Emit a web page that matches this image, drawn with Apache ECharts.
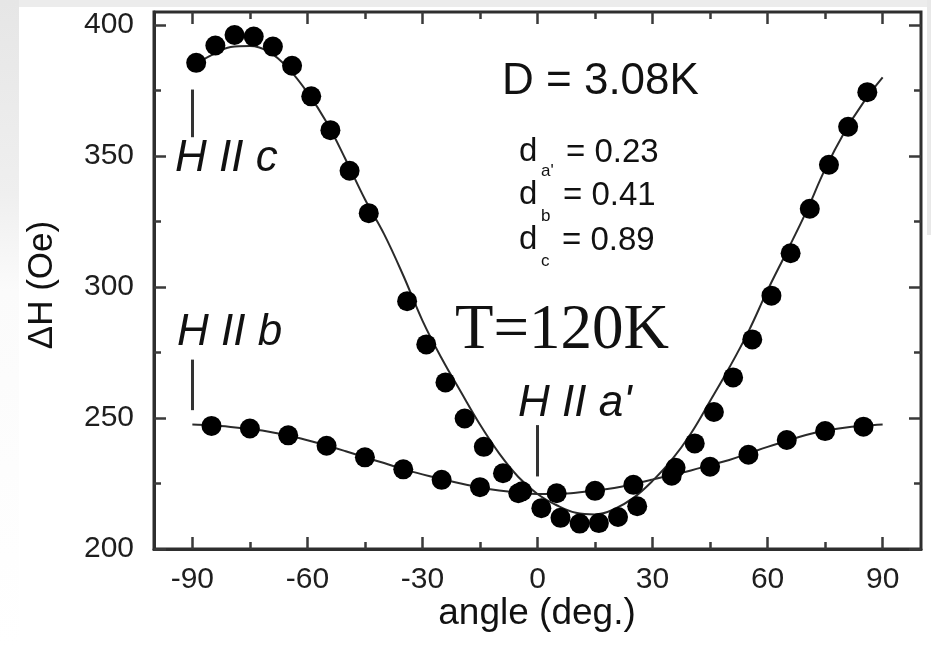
<!DOCTYPE html>
<html>
<head>
<meta charset="utf-8">
<script src="https://cdn.jsdelivr.net/npm/echarts@6/dist/echarts.min.js"></script>
<style>
html,body{margin:0;padding:0;background:#ffffff;}
#chart{width:931px;height:647px;}
</style>
</head>
<body>
<div id="chart"></div>
<script>
// ---- data ----
const cAngles = [-89,-84,-79,-74,-69,-64,-59,-54,-49,-44,-34,-29,-24,-19,-14,-9,-4,1,6,11,16,21,26,36,41,46,51,56,61,66,71,76,81,86];
const cValues = [385.6,392.2,396.2,395.6,391.8,384.5,372.8,359.9,344.4,328.2,294.6,278.1,263.6,249.8,239.0,228.9,222.0,215.6,211.9,209.7,209.9,212.2,216.3,231.0,240.3,252.3,265.5,280.0,296.7,312.9,329.9,346.7,361.2,374.4];

const bAngles = [-85,-75,-65,-55,-45,-35,-25,-15,-5,5,15,25,35,45,55,65,75,85];
const bValues = [247.0,246.0,243.4,239.4,235.0,230.4,226.4,223.6,221.3,221.3,222.2,224.5,228.0,231.4,236.0,241.6,245.0,246.7];

const fitAngles = [-90,-85,-80,-75,-70,-65,-60,-55,-50,-45,-40,-35,-30,-25,-20,-15,-10,-5,0,5,10,15,20,25,30,35,40,45,50,55,60,65,70,75,80,85,90];
const cFit = [384.3,388.5,391.6,392.0,389.8,383.5,374.3,362.9,348.6,333.5,320.2,304.4,287.2,272.8,260.0,247.5,236.5,227.5,221.0,216.7,213.8,213.2,215.2,219.5,226.0,234.0,244.1,256.5,269.2,283.0,298.8,313.5,328.5,345.0,359.0,370.5,380.0];
const bFit = [247.5,247.2,246.6,245.8,244.8,243.3,241.5,239.5,237.3,235.0,232.8,230.5,228.5,226.7,225.0,223.5,222.3,221.5,221.0,221.0,221.5,222.3,223.3,224.8,226.5,228.3,230.0,232.0,234.0,236.5,239.0,241.3,243.5,245.2,246.3,247.0,247.5];

// direction markers (angle, top value, bottom value)
const markerAngles = [-90, -90, 0];
const markerTop = [375.4, 272.3, 247.3];
const markerBottom = [357.2, 253.0, 227.7];

// axis ticks
const xMajor = [-90,-60,-30,0,30,60,90];
const xMinor = [-75,-45,-15,15,45,75];
const yMajor = [200,250,300,350,400];
const yMinor = [225,275,325,375];
const xRange = [-100, 100];
const yRange = [200, 405];

// ---- chart ----
const fontSans = '"Liberation Sans", Arial, Helvetica, sans-serif';
const fontSerif = '"Liberation Serif", "Times New Roman", serif';
const frameColor = '#2e2e2e';
const tickColor = '#3a3a3a';

function zip(a, b) { return a.map((v, i) => [v, b[i]]); }

function xAx(pos, ticks, len, labels) {
  return {
    type: 'value', min: xRange[0], max: xRange[1], position: pos,
    axisLine: { show: labels, onZero: false, lineStyle: { color: frameColor, width: 3 } },
    axisTick: { show: true, inside: true, length: len, customValues: ticks, lineStyle: { color: tickColor, width: 2.5 } },
    axisLabel: labels ? { show: true, customValues: ticks, margin: 16, fontSize: 30, color: '#1e1e1e', fontFamily: fontSans } : { show: false },
    splitLine: { show: false }
  };
}
function yAx(pos, ticks, len, labels) {
  return {
    type: 'value', min: yRange[0], max: yRange[1], position: pos,
    axisLine: { show: labels, onZero: false, lineStyle: { color: frameColor, width: 3 } },
    axisTick: { show: true, inside: true, length: len, customValues: ticks, lineStyle: { color: tickColor, width: 2.5 } },
    axisLabel: labels ? { show: true, customValues: ticks, margin: 20, fontSize: 30, color: '#1e1e1e', fontFamily: fontSans } : { show: false },
    splitLine: { show: false }
  };
}

const markLineData = markerAngles.map((a, i) => [{ coord: [a, markerTop[i]] }, { coord: [a, markerBottom[i]] }]);

function txt(x, y, text, font, align) {
  return { type: 'text', x: x, y: y, silent: true, z: 50,
    style: { text: text, font: font, fill: '#111', align: align || 'left', verticalAlign: 'middle' } };
}

const chart = echarts.init(document.getElementById('chart'), null, { renderer: 'canvas' });
chart.setOption({
  animation: false,
  backgroundColor: '#ffffff',
  grid: { left: 154, right: 10, top: 12, bottom: 98, show: true, borderColor: frameColor, borderWidth: 3, backgroundColor: '#ffffff' },
  xAxis: [
    xAx('bottom', xMajor, 12, true),
    xAx('bottom', xMinor, 7, false),
    xAx('top', xMajor, 12, false),
    xAx('top', xMinor, 7, false)
  ],
  yAxis: [
    yAx('left', yMajor, 12, true),
    yAx('left', yMinor, 7, false),
    yAx('right', yMajor, 12, false),
    yAx('right', yMinor, 7, false)
  ],
  series: [
    { name: 'fit c', type: 'line', data: zip(fitAngles, cFit), smooth: 0.4, showSymbol: false, silent: true,
      lineStyle: { color: '#2a2a2a', width: 2 }, z: 2,
      markLine: { symbol: ['none', 'none'], silent: true, label: { show: false },
        lineStyle: { color: '#333', width: 3, type: 'solid' }, data: markLineData } },
    { name: 'fit b', type: 'line', data: zip(fitAngles, bFit), smooth: 0.4, showSymbol: false, silent: true,
      lineStyle: { color: '#2a2a2a', width: 2 }, z: 2 },
    { name: 'H || c', type: 'scatter', data: zip(cAngles, cValues), symbol: 'circle', symbolSize: 20,
      itemStyle: { color: '#000', opacity: 1 }, z: 3 },
    { name: 'H || b', type: 'scatter', data: zip(bAngles, bValues), symbol: 'circle', symbolSize: 20,
      itemStyle: { color: '#000', opacity: 1 }, z: 3 }
  ],
  graphic: [
    { type: 'rect', shape: { x: 0, y: 0, width: 931, height: 7 }, style: { fill: '#ececec' }, silent: true, z: -10 },
    { type: 'rect', shape: { x: 0, y: 0, width: 19, height: 647 }, silent: true, z: -10,
      style: { fill: new echarts.graphic.LinearGradient(0, 0, 0, 1, [
        { offset: 0, color: '#e6e6e6' }, { offset: 0.3, color: '#efefef' }, { offset: 0.45, color: '#fbfbfb' }, { offset: 1, color: '#ffffff' }]) } },
    { type: 'rect', shape: { x: 927, y: 0, width: 4, height: 235 }, style: { fill: '#e8e8e8' }, silent: true, z: -10 },
    // axis titles
    { type: 'text', x: 42, y: 285, rotation: Math.PI / 2, silent: true, z: 50,
      style: { text: 'ΔH (Oe)', font: '35px ' + fontSans, fill: '#111', align: 'center', verticalAlign: 'middle' } },
    txt(537, 614, 'angle (deg.)', '37px ' + fontSans, 'center'),
    // annotations
    txt(502, 82, 'D = 3.08K', '44px ' + fontSans),
    txt(175, 159, 'H II c', 'italic 44px ' + fontSans),
    txt(177, 333, 'H II b', 'italic 44px ' + fontSans),
    txt(518, 404, "H II a'", 'italic 44px ' + fontSans),
    txt(455, 331, 'T=120K', '63px ' + fontSerif),
    txt(519, 152, 'd', '33px ' + fontSans),
    txt(541, 171, "a'", '17px ' + fontSans),
    txt(566, 153, '= 0.23', '33px ' + fontSans),
    txt(519, 195, 'd', '33px ' + fontSans),
    txt(541, 216, 'b', '17px ' + fontSans),
    txt(563, 196, '= 0.41', '33px ' + fontSans),
    txt(519, 240, 'd', '33px ' + fontSans),
    txt(541, 261, 'c', '17px ' + fontSans),
    txt(562, 241, '= 0.89', '33px ' + fontSans)
  ]
});
</script>
</body>
</html>
